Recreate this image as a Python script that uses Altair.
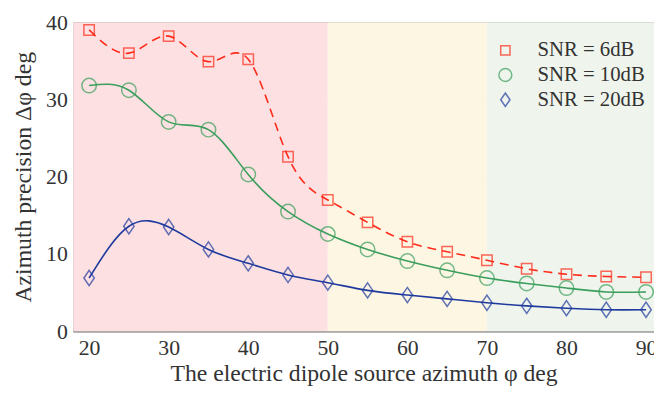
import altair as alt
import pandas as pd

azimuth = [20, 25, 30, 35, 40, 45, 50, 55, 60, 65, 70, 75, 80, 85, 90]
snr6 = [39.0, 36.0, 38.2, 34.9, 35.2, 22.6, 17.0, 14.1, 11.6, 10.3, 9.2, 8.1, 7.4, 7.1, 7.0]
snr10 = [31.8, 31.2, 27.1, 26.1, 20.3, 15.5, 12.6, 10.6, 9.1, 7.9, 6.9, 6.2, 5.6, 5.1, 5.1]
snr20 = [6.9, 13.6, 13.5, 10.6, 8.8, 7.3, 6.3, 5.3, 4.7, 4.2, 3.7, 3.3, 3.0, 2.8, 2.8]
series_names = ["SNR = 6dB", "SNR = 10dB", "SNR = 20dB"]
series_colors = ["#ff2a1a", "#3a9e5c", "#1f3a9e"]

region_start = [18, 50, 70]
region_end = [50, 70, 91]
region_colors = ["#fde1e2", "#fdf6e3", "#eff5ec"]

rows = []
for name, vals in zip(series_names, [snr6, snr10, snr20]):
    for a, v in zip(azimuth, vals):
        rows.append({"azimuth": a, "value": v, "series": name})
df = pd.DataFrame(rows)
regions = pd.DataFrame({"start": region_start, "end": region_end, "color": region_colors})

FONT = "Liberation Serif"
xscale = alt.Scale(domain=[18, 91], nice=False, zero=False)
yscale = alt.Scale(domain=[0, 40], nice=False)
cscale = alt.Scale(domain=series_names, range=series_colors)

square = "M-0.72,-0.72H0.72V0.72H-0.72Z"
diamond = "M0,-1.05L0.72,0L0,1.05L-0.72,0Z"

bg = alt.Chart(regions).mark_rect().encode(
    x=alt.X("start:Q", scale=xscale,
            axis=alt.Axis(values=[20, 30, 40, 50, 60, 70, 80, 90], title="The electric dipole source azimuth φ deg")),
    x2="end:Q",
    y=alt.Y("ylo:Q", scale=yscale,
            axis=alt.Axis(values=[0, 10, 20, 30, 40], title="Azimuth precision Δφ deg")),
    y2="yhi:Q",
    fill=alt.Fill("color:N", scale=None),
).transform_calculate(ylo="0", yhi="40")

dashed = alt.Chart(df).transform_filter(alt.datum.series == series_names[0]).mark_line(
    interpolate="natural", strokeWidth=1.6, strokeDash=[9, 6]
).encode(
    x=alt.X("azimuth:Q", scale=xscale),
    y=alt.Y("value:Q", scale=yscale),
    color=alt.Color("series:N", scale=cscale, sort=series_names),
)

solid = alt.Chart(df).transform_filter(alt.datum.series != series_names[0]).mark_line(
    interpolate="natural", strokeWidth=1.6
).encode(
    x=alt.X("azimuth:Q", scale=xscale),
    y=alt.Y("value:Q", scale=yscale),
    color=alt.Color("series:N", scale=cscale, sort=series_names),
)

points = alt.Chart(df).mark_point(filled=False, strokeWidth=1.5, size=215).encode(
    x="azimuth:Q",
    y="value:Q",
    color=alt.Color("series:N", scale=cscale, sort=series_names),
    shape=alt.Shape("series:N", scale=alt.Scale(domain=series_names, range=[square, "circle", diamond]), sort=series_names),
)

chart = alt.layer(bg, dashed, solid, points).properties(
    width=588, height=313,
    autosize=alt.AutoSizeParams(type="none"),
    padding={"left": 66, "top": 12, "right": 0, "bottom": 58},
).configure_view(stroke="#8a8a8a", strokeWidth=1).configure_axis(
    labelFont=FONT, titleFont=FONT, labelFontSize=22, titleFontSize=24,
    labelColor="#333333", titleColor="#333333", titleFontWeight="normal",
    domainColor="#8a8a8a", tickColor="#8a8a8a", tickSize=0,
    gridColor="#000000", gridOpacity=0.08, zindex=1, labelPadding=6,
).configure_axisX(titlePadding=4).configure_axisY(titlePadding=10).configure_legend(
    orient="none", legendX=427, legendY=18, title=None,
    labelFont=FONT, labelFontSize=21, labelColor="#333333", symbolStrokeWidth=1.5,
    symbolSize=170, labelOffset=22, rowPadding=3, padding=0,
)

chart.save("out.html", embed_options={"renderer": "svg", "actions": False})
